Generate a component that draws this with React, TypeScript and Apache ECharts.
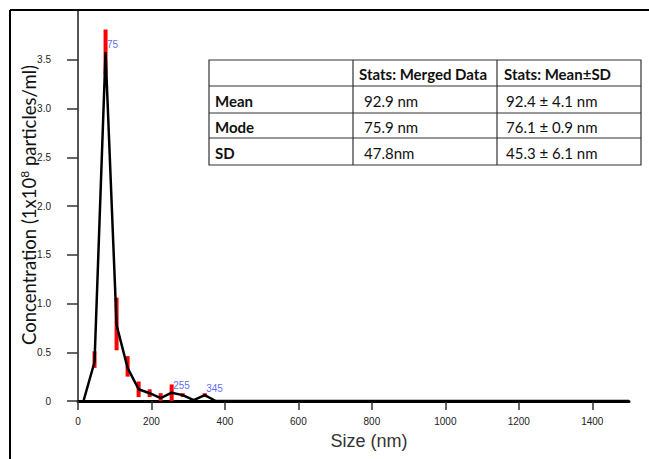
import React, { useEffect, useRef } from "react";
import * as echarts from "echarts";

// ---- data ----
const sizes = [15, 45, 75, 105, 135, 165, 195, 225, 255, 285, 315, 345, 375, 1500];
const concentration = [0, 0.4, 3.58, 0.78, 0.34, 0.12, 0.08, 0.03, 0.085, 0.06, 0.01, 0.06, 0, 0];

const errSizes = [45, 75, 105, 135, 165, 195, 225, 255, 285, 345];
const errLow = [0.34, 3.35, 0.52, 0.25, 0.04, 0.04, 0.0, 0.0, 0.04, 0.04];
const errHigh = [0.51, 3.81, 1.06, 0.46, 0.2, 0.12, 0.08, 0.17, 0.08, 0.08];

const peakSizes = [75, 255, 345];

const yTicks = [0, 0.5, 1.0, 1.5, 2.0, 2.5, 3.0, 3.5];
const xTicks = [0, 200, 400, 600, 800, 1000, 1200, 1400];

const tableHeaders = ["", "Stats: Merged Data", "Stats: Mean±SD"];
const rowLabels = ["Mean", "Mode", "SD"];
const mergedStats = ["92.9 nm", "75.9 nm", "47.8nm"];
const meanSdStats = ["92.4 ± 4.1 nm", "76.1 ± 0.9 nm", "45.3 ± 6.1 nm"];

const xTitle = "Size (nm)";

export default function App() {
  const ref = useRef<HTMLDivElement>(null);

  useEffect(() => {
    if (!ref.current) return;
    const chart = echarts.init(ref.current, null, { renderer: "svg" });

    const lineData = sizes.map((s, i) => [s, concentration[i]]);
    const errData = errSizes.map((s, i) => [s, errLow[i], errHigh[i]]);
    const peakData = peakSizes.map((s) => {
      const i = sizes.indexOf(s);
      return [s, concentration[i]];
    });

    // table geometry
    const colX = [209, 353, 497, 641];
    const rowY = [60, 86, 113, 138, 165];
    const tableFont = "Lato, 'Open Sans', sans-serif";
    const tableEls: any[] = [];
    tableEls.push({
      type: "rect",
      shape: { x: colX[0], y: rowY[0], width: colX[3] - colX[0], height: rowY[4] - rowY[0] },
      style: { fill: "#fff", stroke: "#333", lineWidth: 1.2 },
      z: 10,
    });
    for (let r = 1; r < rowY.length - 1; r++) {
      tableEls.push({
        type: "line",
        shape: { x1: colX[0], y1: rowY[r], x2: colX[3], y2: rowY[r] },
        style: { stroke: "#333", lineWidth: 1.2 },
        z: 11,
      });
    }
    for (let c = 1; c < colX.length - 1; c++) {
      tableEls.push({
        type: "line",
        shape: { x1: colX[c], y1: rowY[0], x2: colX[c], y2: rowY[4] },
        style: { stroke: "#333", lineWidth: 1.2 },
        z: 11,
      });
    }
    const cellText = (t: string, x: number, y: number, bold: boolean) => ({
      type: "text",
      x,
      y,
      z: 12,
      style: {
        text: t,
        fill: "#111",
        font: `${bold ? "bold " : ""}15px ${tableFont}`,
        align: "left",
        verticalAlign: "middle",
      },
    });
    tableHeaders.forEach((h, c) => {
      if (h) tableEls.push(cellText(h, colX[c] + (c === 1 ? 6 : 7), (rowY[0] + rowY[1]) / 2 + 1, true));
    });
    rowLabels.forEach((l, r) => {
      const cy = (rowY[r + 1] + rowY[r + 2]) / 2 + 1;
      tableEls.push(cellText(l, colX[0] + 6, cy, true));
      tableEls.push(cellText(mergedStats[r], colX[1] + 11, cy, false));
      tableEls.push(cellText(meanSdStats[r], colX[2] + 9, cy, false));
    });

    chart.setOption({
      animation: false,
      backgroundColor: "#fff",
      grid: { left: 78, right: 20, top: 11, bottom: 58, containLabel: false },
      xAxis: {
        type: "value",
        min: 0,
        max: 1500,
        interval: 200,
        splitLine: { show: false },
        axisLine: { show: true, lineStyle: { color: "#000", width: 3 } },
        axisTick: {
          show: true,
          length: 9,
          customValues: xTicks,
          lineStyle: { color: "#333", width: 1.5 },
        },
        axisLabel: {
          customValues: xTicks,
          margin: 15,
          color: "#222",
          fontSize: 10,
          fontFamily: "'Liberation Sans', Arial, sans-serif",
          formatter: (v: number) => String(v),
        },
      },
      yAxis: {
        type: "value",
        min: 0,
        max: 4,
        interval: 0.5,
        splitLine: { show: false },
        axisLine: { show: true, lineStyle: { color: "#555", width: 2 } },
        axisTick: {
          show: true,
          length: 11,
          customValues: yTicks,
          lineStyle: { color: "#333", width: 1.5 },
        },
        axisLabel: {
          customValues: yTicks,
          margin: 27,
          color: "#222",
          fontSize: 10,
          fontFamily: "'Liberation Sans', Arial, sans-serif",
          formatter: (v: number) => (v === 0 ? "0" : v.toFixed(1)),
        },
      },
      series: [
        {
          type: "custom",
          z: 2,
          data: errData,
          renderItem: (params: any, api: any) => {
            const x = api.value(0);
            const top = api.coord([x, api.value(2)]);
            const bot = api.coord([x, api.value(1)]);
            return {
              type: "rect",
              shape: { x: top[0] - 2, y: top[1], width: 4, height: bot[1] - top[1] },
              style: { fill: "#ff0000" },
            };
          },
        },
        {
          type: "line",
          z: 3,
          data: lineData,
          symbol: "none",
          lineStyle: { color: "#000", width: 2.5 },
        },
        {
          type: "scatter",
          z: 4,
          data: peakData,
          symbolSize: 1,
          itemStyle: { color: "rgba(0,0,0,0)" },
          label: {
            show: true,
            position: "right",
            distance: 1,
            offset: [0, -7],
            color: "#3344ff",
            fontSize: 10,
            fontFamily: "'Liberation Sans', Arial, sans-serif",
            formatter: (p: any) => String(p.value[0]),
          },
        },
      ],
      graphic: [
        // frame
        {
          type: "line",
          shape: { x1: 10, y1: 10, x2: 649, y2: 10 },
          style: { stroke: "#000", lineWidth: 2 },
          z: 20,
        },
        {
          type: "line",
          shape: { x1: 10, y1: 10, x2: 10, y2: 459 },
          style: { stroke: "#000", lineWidth: 2 },
          z: 20,
        },
        // axis titles
        {
          type: "text",
          x: 369,
          y: 441,
          style: {
            text: xTitle,
            fill: "#333",
            font: "18px 'Liberation Sans', Arial, sans-serif",
            align: "center",
            verticalAlign: "middle",
          },
        },
        {
          type: "text",
          x: 29,
          y: 205,
          rotation: Math.PI / 2,
          style: {
            text: "{a|Concentration (1x10}{s|8}{a| particles/ml)}",
            align: "center",
            verticalAlign: "middle",
            rich: {
              a: { fontSize: 18.5, fontFamily: tableFont, fill: "#111", color: "#111" },
              s: { fontSize: 12, fontFamily: tableFont, fill: "#111", color: "#111", verticalAlign: "top", padding: [0, 0, 9, 0] },
            },
          },
        },
        ...tableEls,
      ],
    });

    return () => chart.dispose();
  }, []);

  return (
    <div
      ref={ref}
      style={{ position: "fixed", left: 0, top: 0, width: 649, height: 459, background: "#fff" }}
    />
  );
}
